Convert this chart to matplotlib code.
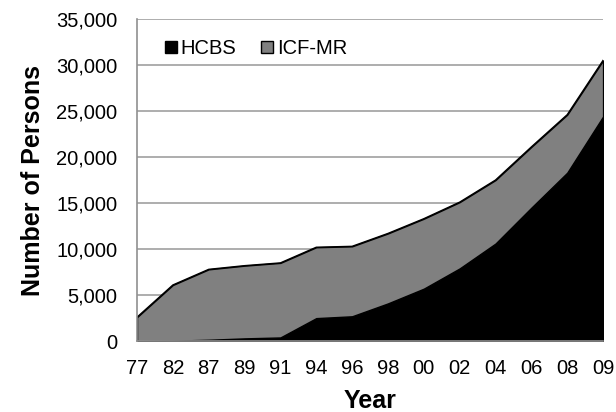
import matplotlib.pyplot as plt
import numpy as np
from matplotlib.lines import Line2D

plt.rcParams['font.family'] = ['Liberation Sans', 'DejaVu Sans']

years = ['77', '82', '87', '89', '91', '94', '96', '98', '00', '02', '04', '06', '08', '09']
hcbs = [0, 50, 150, 300, 400, 2500, 2700, 4100, 5700, 7900, 10600, 14500, 18300, 24400]
total = [2600, 6100, 7800, 8200, 8500, 10200, 10300, 11700, 13300, 15100, 17500, 21100, 24600, 30500]
icf = [t - h for t, h in zip(total, hcbs)]

x = np.arange(len(years))
fig = plt.figure(figsize=(6.16, 4.12), dpi=100)
ax = fig.add_axes([0.2224, 0.172, 0.7566, 0.782])

ax.stackplot(x, hcbs, icf, colors=['#000000', '#808080'], edgecolor='black', linewidth=1)
ax.plot(x, total, color='black', lw=1)

ax.set_xlim(0, len(years) - 1)
ax.set_ylim(0, 35000)
ax.set_yticks(np.arange(0, 35001, 5000))
ax.set_yticklabels([f'{v:,}' for v in range(0, 35001, 5000)])
ax.set_xticks(x)
ax.set_xticklabels(years)
ax.tick_params(length=0, labelsize=14.5)
ax.tick_params(axis='x', pad=13)
ax.tick_params(axis='y', pad=14)
ax.grid(axis='y', color='#a0a0a0', lw=1.2)
ax.set_axisbelow(True)
for s in ['top', 'right']:
    ax.spines[s].set_visible(False)
for s in ['left', 'bottom']:
    ax.spines[s].set_color('#909090')
    ax.spines[s].set_linewidth(1.2)

ax.set_xlabel('Year', fontsize=18, fontweight='bold', labelpad=8)
ax.set_ylabel('Number of Persons', fontsize=18, fontweight='bold', labelpad=8)

handles = [Line2D([], [], marker='s', ls='none', color='black', markersize=8),
           Line2D([], [], marker='s', ls='none', markerfacecolor='#808080',
                  markeredgecolor='black', markersize=8)]
ax.legend(handles, ['HCBS', 'ICF-MR'], loc='upper left', ncol=2, frameon=False,
          fontsize=14.5, handletextpad=0.0, columnspacing=1.0,
          bbox_to_anchor=(0.012, 0.995), handlelength=1)

fig.savefig('out.png', dpi=100)
